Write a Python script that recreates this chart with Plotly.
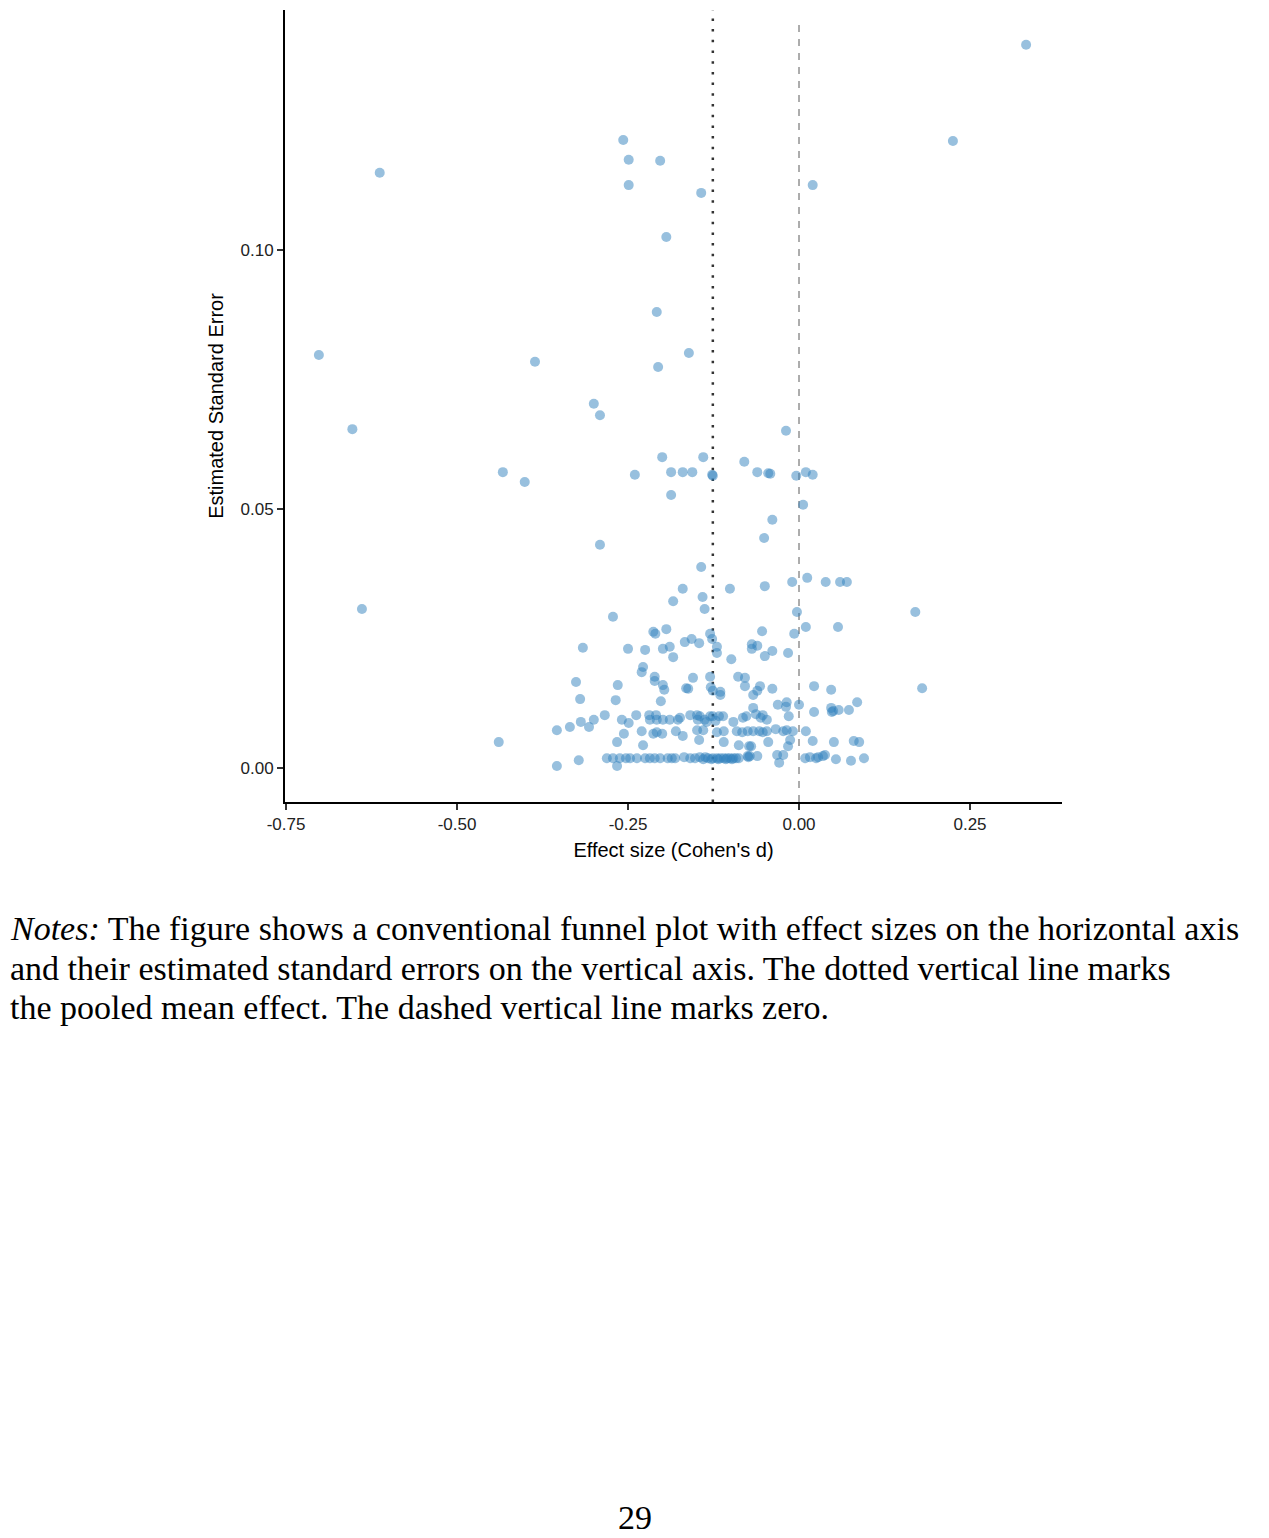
import plotly.graph_objects as go

# Effect sizes (Cohen's d) and their estimated standard errors
effect_upper = [0.332, 0.225, -0.257, -0.249, -0.203, -0.249, -0.613, -0.143, 0.020, -0.194,
                -0.208, -0.702, -0.386, -0.161, -0.206, -0.300, -0.291, -0.653, -0.019, -0.200,
                -0.140, -0.080, -0.433, -0.240, -0.187, -0.170, -0.156, -0.127, -0.126, -0.061,
                -0.045, -0.042, -0.004, 0.010, 0.020, -0.401, -0.187, 0.006, -0.039, -0.051,
                -0.291, -0.143]
se_upper = [0.1396, 0.1210, 0.1212, 0.1174, 0.1172, 0.1125, 0.1149, 0.1110, 0.1125, 0.1025,
            0.0880, 0.0797, 0.0784, 0.0801, 0.0774, 0.0703, 0.0681, 0.0654, 0.0651, 0.0600,
            0.0600, 0.0591, 0.0571, 0.0566, 0.0571, 0.0571, 0.0571, 0.0566, 0.0564, 0.0571,
            0.0569, 0.0568, 0.0564, 0.0571, 0.0566, 0.0552, 0.0527, 0.0508, 0.0479, 0.0444,
            0.0431, 0.0388]

effect_mid = [0.012, -0.010, -0.050, 0.039, 0.060, 0.070, -0.170, -0.101, -0.141, -0.184,
              -0.003, 0.170, -0.639, -0.138, -0.272, 0.010, 0.057, -0.194, -0.213, -0.210,
              -0.054, -0.007, -0.130, -0.127, -0.167, -0.157, -0.146, -0.316, -0.250, -0.225,
              -0.199, -0.189, -0.120, -0.120, -0.069, -0.069, -0.061, -0.039, -0.050, -0.016,
              -0.099, -0.184, -0.228, -0.230, -0.089, -0.079, -0.155, -0.130, -0.211, -0.211,
              -0.199, -0.197, -0.326, -0.265, -0.165, -0.162, -0.129, -0.126, -0.115, -0.079,
              -0.061, -0.057, -0.039, 0.022, 0.047, 0.180, -0.320, -0.268, -0.202]
se_mid = [0.0367, 0.0359, 0.0351, 0.0359, 0.0359, 0.0359, 0.0346, 0.0346, 0.0330, 0.0322,
          0.0301, 0.0301, 0.0307, 0.0307, 0.0292, 0.0272, 0.0272, 0.0268, 0.0263, 0.0259,
          0.0264, 0.0259, 0.0259, 0.0249, 0.0243, 0.0249, 0.0241, 0.0232, 0.0230, 0.0228,
          0.0230, 0.0234, 0.0234, 0.0222, 0.0239, 0.0230, 0.0236, 0.0226, 0.0216, 0.0222,
          0.0210, 0.0214, 0.0195, 0.0185, 0.0176, 0.0174, 0.0174, 0.0176, 0.0176, 0.0168,
          0.0160, 0.0151, 0.0166, 0.0160, 0.0154, 0.0153, 0.0156, 0.0149, 0.0147, 0.0158,
          0.0149, 0.0158, 0.0153, 0.0158, 0.0151, 0.0154, 0.0133, 0.0131, 0.0129]

effect_low = [-0.238, -0.219, -0.209, -0.218, -0.208, -0.199, -0.189, -0.177, -0.174, -0.159,
              -0.149, -0.148, -0.145, -0.135, -0.130, -0.126, -0.117, -0.111, -0.096, -0.082,
              -0.077, -0.067, -0.063, -0.056, -0.053, -0.047, -0.015, -0.031, -0.018, -0.019,
              0.000, 0.022, 0.047, 0.048, 0.050, 0.058, 0.073, 0.085, -0.115, -0.067,
              -0.284, -0.300, -0.259, -0.249, -0.319, -0.335, -0.307, -0.354, -0.138, -0.122,
              -0.256, -0.230, -0.213, -0.208, -0.200, -0.180, -0.170, -0.149, -0.140, -0.120,
              -0.110, -0.091, -0.083, -0.075, -0.067, -0.058, -0.053, -0.047, -0.034, -0.023,
              -0.018, -0.009, 0.010,
              -0.439, -0.266, -0.228, -0.146, -0.110, -0.088, -0.073, -0.070, -0.045, -0.016,
              -0.013, 0.020, 0.051, 0.080, 0.088]
se_low = [0.0102, 0.0102, 0.0102, 0.0093, 0.0093, 0.0093, 0.0093, 0.0093, 0.0097, 0.0102,
          0.0102, 0.0093, 0.0100, 0.0089, 0.0100, 0.0100, 0.0100, 0.0100, 0.0089, 0.0097,
          0.0100, 0.0116, 0.0104, 0.0097, 0.0102, 0.0093, 0.0100, 0.0122, 0.0127, 0.0118,
          0.0122, 0.0108, 0.0116, 0.0108, 0.0110, 0.0112, 0.0112, 0.0127, 0.0141, 0.0141,
          0.0102, 0.0093, 0.0093, 0.0087, 0.0089, 0.0079, 0.0079, 0.0073, 0.0093, 0.0091,
          0.0066, 0.0071, 0.0066, 0.0069, 0.0066, 0.0071, 0.0062, 0.0073, 0.0073, 0.0069,
          0.0071, 0.0071, 0.0069, 0.0071, 0.0071, 0.0071, 0.0069, 0.0071, 0.0075, 0.0071,
          0.0073, 0.0071, 0.0071,
          0.0050, 0.0050, 0.0044, 0.0054, 0.0050, 0.0044, 0.0042, 0.0042, 0.0050, 0.0042,
          0.0054, 0.0052, 0.0050, 0.0052, 0.0050]

effect_bottom = [-0.354, -0.322, -0.266, -0.029,
                 -0.281, -0.272, -0.262, -0.253, -0.247, -0.237, -0.225, -0.218, -0.211, -0.203,
                 -0.192, -0.186, -0.181, -0.168, -0.159, -0.152, -0.145, -0.137, -0.133, -0.126,
                 -0.120, -0.115, -0.110, -0.105, -0.101, -0.096, -0.092, -0.088, -0.075, -0.072,
                 -0.061, -0.032, -0.023, 0.009, 0.016, 0.025, 0.028, 0.035, 0.038, 0.054,
                 0.076, 0.095, -0.140, -0.128, -0.118, -0.107, -0.098, -0.074]
se_bottom = [0.0004, 0.0015, 0.0004, 0.0010,
             0.0019, 0.0019, 0.0019, 0.0019, 0.0019, 0.0019, 0.0019, 0.0019, 0.0019, 0.0019,
             0.0019, 0.0019, 0.0019, 0.0021, 0.0019, 0.0019, 0.0021, 0.0021, 0.0019, 0.0019,
             0.0019, 0.0019, 0.0019, 0.0019, 0.0019, 0.0019, 0.0019, 0.0019, 0.0023, 0.0023,
             0.0023, 0.0025, 0.0025, 0.0019, 0.0021, 0.0019, 0.0021, 0.0023, 0.0025, 0.0017,
             0.0014, 0.0019, 0.0017, 0.0017, 0.0017, 0.0017, 0.0017, 0.0021]

effects = effect_upper + effect_mid + effect_low + effect_bottom
std_errors = se_upper + se_mid + se_low + se_bottom

pooled_mean = -0.126
zero_line = 0.0

x_tickvals = [-0.75, -0.50, -0.25, 0.00, 0.25]
x_ticktext = ["-0.75", "-0.50", "-0.25", "0.00", "0.25"]
y_tickvals = [0.00, 0.05, 0.10]
y_ticktext = ["0.00", "0.05", "0.10"]

notes_lines = [
    "<i>Notes:</i> The figure shows a conventional funnel plot with effect sizes on the horizontal axis",
    "and their estimated standard errors on the vertical axis. The dotted vertical line marks",
    "the pooled mean effect. The dashed vertical line marks zero.",
]
page_number = "29"

fig = go.Figure(go.Scatter(
    x=effects,
    y=std_errors,
    mode='markers',
    marker=dict(size=10, color='rgba(49, 130, 189, 0.5)', line=dict(width=0)),
    hoverinfo='x+y',
    showlegend=False
))

# pooled mean (dotted) and zero (dashed) reference lines
fig.add_shape(type='line', xref='x', yref='paper', x0=pooled_mean, x1=pooled_mean, y0=0, y1=1,
              line=dict(color='#333333', width=2.5, dash='2.5px,8.2px'), layer='below')
fig.add_shape(type='line', xref='x', yref='paper', x0=zero_line, x1=zero_line, y0=0, y1=0.99,
              line=dict(color='#999999', width=1.6, dash='7px,7px'), layer='below')

axis_font = dict(family="Liberation Sans, Arial", size=17, color='#222222')

# page body adds an 8px offset, so the figure is 8px smaller and shifted
fig.update_layout(
    width=1261,
    height=1530,
    margin=dict(l=277, r=207, t=2, b=736),
    paper_bgcolor='white',
    plot_bgcolor='white',
    font=dict(family="Liberation Sans, Arial"),
    xaxis=dict(
        range=[-0.7515, 0.3845],
        tickvals=x_tickvals, ticktext=x_ticktext,
        showgrid=False, zeroline=False,
        showline=True, linecolor='black', linewidth=2,
        ticks='outside', ticklen=6, tickwidth=1.5, tickcolor='#333333',
        tickfont=axis_font,
        title=dict(text="Effect size (Cohen's d)", font=dict(family="Liberation Sans, Arial", size=20, color='black'),
                   standoff=10),
    ),
    yaxis=dict(
        range=[-0.00656, 0.1463],
        tickvals=y_tickvals, ticktext=y_ticktext,
        showgrid=False, zeroline=False,
        showline=True, linecolor='black', linewidth=2,
        ticks='outside', ticklen=6, tickwidth=1.5, tickcolor='#333333',
        tickfont=axis_font,
        title=dict(text="Estimated Standard Error", font=dict(family="Liberation Sans, Arial", size=20, color='black'),
                   standoff=12),
    ),
)

note_font = dict(family="Liberation Serif, Times New Roman, serif", size=34, color='black')
for i, line in enumerate(notes_lines):
    fig.add_annotation(
        text=line, xref='paper', yref='paper',
        x=-0.3565, y=-0.1591 - 0.0505 * i,
        xanchor='left', yanchor='middle', align='left',
        showarrow=False, font=note_font
    )

fig.add_annotation(
    text=page_number, xref='paper', yref='paper',
    x=0.4505, y=-0.904, xanchor='center', yanchor='middle',
    showarrow=False, font=note_font
)

fig.write_html("out.html")
